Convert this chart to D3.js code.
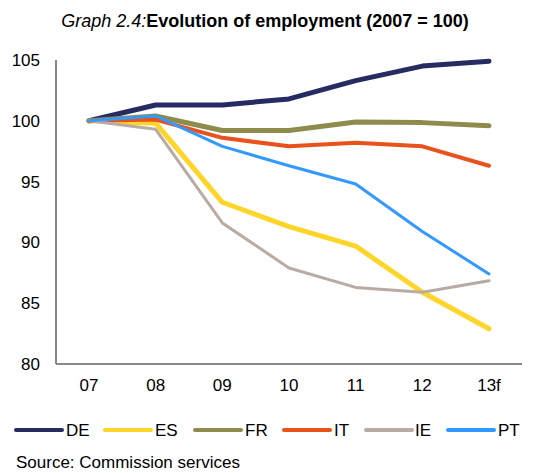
<!DOCTYPE html>
<style>
body { margin: 0; background: #fff; }
svg { font-family: "Liberation Sans", Arial, sans-serif; }
</style>
<svg width="539" height="473"></svg>
<script src="https://d3js.org/d3.v7.min.js"></script>
<script>

var years = ["07", "08", "09", "10", "11", "12", "13f"];
var countries = ["DE", "ES", "FR", "IT", "IE", "PT"];
var yTicks = [80, 85, 90, 95, 100, 105];

var DE = [100, 101.3, 101.3, 101.8, 103.3, 104.5, 104.9];
var ES = [100, 99.8, 93.3, 91.3, 89.7, 85.9, 82.9];
var FR = [100, 100.4, 99.2, 99.2, 99.9, 99.85, 99.6];
var IT = [100, 100.1, 98.6, 97.9, 98.2, 97.9, 96.3];
var IE = [100, 99.3, 91.6, 87.9, 86.3, 85.9, 86.85];
var PT = [100, 100.4, 97.9, 96.3, 94.8, 90.9, 87.4];

var series = [DE, ES, FR, IT, IE, PT];
var colors = ["#262c62", "#ffd52a", "#8e8c4c", "#e8521c", "#b9aba3", "#3399ff"];
var widths = [5, 5, 5, 4, 3, 3];

var svg = d3.select("svg");

var x = d3.scalePoint().domain(years).range([89, 489]);
var y = d3.scaleLinear().domain([80, 105]).range([364, 60]);

// title
var title = svg.append("text")
    .attr("x", 265)
    .attr("y", 27)
    .attr("text-anchor", "middle")
    .style("font-size", "18px");
title.append("tspan").style("font-style", "italic").text("Graph 2.4:");
title.append("tspan").style("font-weight", "bold").text("Evolution of employment (2007 = 100)");

// axes
svg.append("line")
    .attr("x1", 56).attr("x2", 56)
    .attr("y1", y(105)).attr("y2", y(80))
    .attr("stroke", "#888").attr("stroke-width", 2);
svg.append("line")
    .attr("x1", 56).attr("x2", 522)
    .attr("y1", y(80)).attr("y2", y(80))
    .attr("stroke", "#888").attr("stroke-width", 2);

svg.selectAll(".ytick")
  .data(yTicks)
  .enter().append("text")
    .attr("x", 40)
    .attr("y", function(d) { return y(d) + 6; })
    .attr("text-anchor", "end")
    .style("font-size", "17px")
    .text(function(d) { return d; });

svg.selectAll(".xtick")
  .data(years)
  .enter().append("text")
    .attr("x", function(d) { return x(d); })
    .attr("y", 391)
    .attr("text-anchor", "middle")
    .style("font-size", "17px")
    .text(function(d) { return d; });

var line = d3.line()
    .x(function(d, i) { return x(years[i]); })
    .y(function(d) { return y(d); });

series.forEach(function(s, i) {
  svg.append("path")
      .datum(s)
      .attr("d", line)
      .attr("fill", "none")
      .attr("stroke", colors[i])
      .attr("stroke-width", widths[i])
      .attr("stroke-linejoin", "round")
      .attr("stroke-linecap", "round");
});

// legend
var legX = [16, 105, 195, 284, 366, 448];
var legend = svg.selectAll(".leg")
  .data(countries)
  .enter().append("g")
    .attr("transform", function(d, i) { return "translate(" + legX[i] + ",430)"; });

legend.append("line")
    .attr("x1", 0).attr("x2", 46)
    .attr("stroke", function(d, i) { return colors[i]; })
    .attr("stroke-width", 4)
    .attr("stroke-linecap", "round");

legend.append("text")
    .attr("x", function(d, i) { return i == 4 ? 49 : 50; })
    .attr("y", 6)
    .style("font-size", "17px")
    .text(function(d) { return d; });

svg.append("text")
    .attr("x", 16)
    .attr("y", 468)
    .style("font-size", "17px")
    .text("Source: Commission services");

</script>
